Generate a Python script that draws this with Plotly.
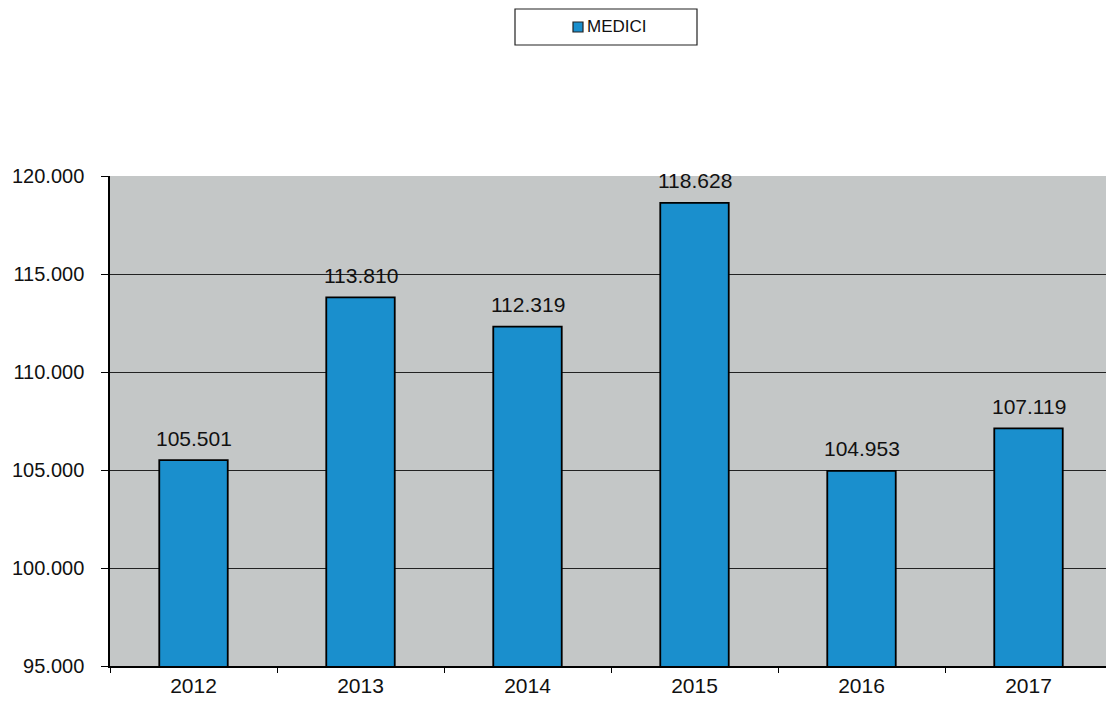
import plotly.graph_objects as go

# Medici per anno
anni = ["2012", "2013", "2014", "2015", "2016", "2017"]
medici = [105501, 113810, 112319, 118628, 104953, 107119]
y_ticks = [95000, 100000, 105000, 110000, 115000, 120000]

W, H = 1106, 704
L, R, T, B = 110, 0, 176, 38
plot_w = W - L - R
plot_h = H - T - B


def px_x(p):
    return (p - L) / plot_w


def px_y(p):
    return (H - B - p) / plot_h


BLUE = "#1a8fcd"
FONT = "Liberation Sans, Arial, sans-serif"


def fmt(v):
    return f"{v:,}".replace(",", ".")


fig = go.Figure(
    go.Bar(
        x=anni,
        y=medici,
        width=0.41,
        marker=dict(color=BLUE, line=dict(color="black", width=1.8)),
        name="MEDICI",
        showlegend=False,
    )
)

# Value labels above each bar (category axis: position by index)
for i, v in enumerate(medici):
    fig.add_annotation(
        x=i, y=v, text=fmt(v), showarrow=False,
        xanchor="center", yanchor="middle", yshift=22,
        font=dict(size=21, color="#111", family=FONT),
    )

fig.update_layout(
    width=W,
    height=H,
    margin=dict(l=L, r=R, t=T, b=B),
    paper_bgcolor="white",
    plot_bgcolor="#c4c7c7",
    separators=",.",
    font=dict(family=FONT, color="#111", size=20),
    xaxis=dict(
        type="category",
        range=[-0.5, 5.5 - 6 / 167],
        tickson="boundaries",
        ticks="outside",
        ticklen=5,
        tickcolor="black",
        showgrid=False,
        showline=True,
        linecolor="black",
        linewidth=1.5,
        tickfont=dict(size=21),
    ),
    yaxis=dict(
        range=[95000, 120000],
        tickvals=y_ticks,
        tickformat=",d",
        ticks="outside",
        ticklen=7,
        tickcolor="black",
        ticklabelstandoff=13,
        showgrid=True,
        gridcolor="#222",
        gridwidth=1,
        showline=True,
        linecolor="black",
        linewidth=1.5,
        zeroline=False,
        tickfont=dict(size=20),
    ),
)

# Legend box with the series swatch
fig.add_shape(
    type="rect", xref="paper", yref="paper",
    x0=px_x(515), x1=px_x(697), y0=px_y(45), y1=px_y(9),
    line=dict(color="#222", width=1.2), fillcolor="white",
)
fig.add_shape(
    type="rect", xref="paper", yref="paper",
    x0=px_x(573), x1=px_x(583), y0=px_y(32), y1=px_y(22),
    line=dict(color="#222", width=1.2), fillcolor=BLUE,
)
fig.add_annotation(
    xref="paper", yref="paper", x=px_x(585), y=px_y(27),
    text="MEDICI", showarrow=False, xanchor="left", yanchor="middle",
    font=dict(size=17, family=FONT, color="#111"),
)

fig.write_html("out.html")
